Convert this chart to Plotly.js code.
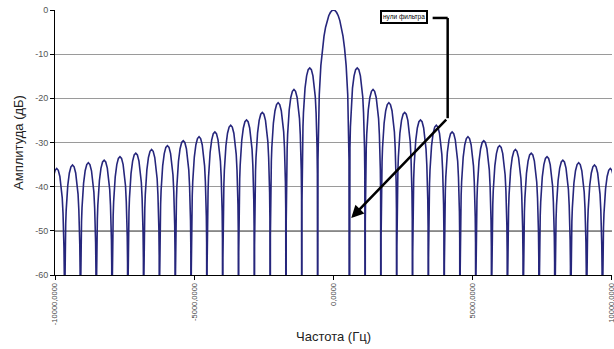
<!DOCTYPE html>
<html><head><meta charset="utf-8">
<script src="https://cdn.plot.ly/plotly-3.0.1.min.js"></script>
<style>html,body{margin:0;padding:0;background:#fff}</style></head>
<body><div id="chart" style="width:614px;height:349px"></div>
<script>
// Null frequencies (Hz) on the positive side (symmetric chart)
const nullFreqsHz = [568,1136,1704,2272,2840,3408,3976,4544,5112,5680,6248,6816,7384,7952,8520,9088,9656,10224];
// Peak level (dB) of each side lobe k=1..17 (between null k and null k+1)
const sideLobePeaksDb = [-13.1,-18.0,-21.0,-23.2,-24.9,-26.1,-27.6,-28.7,-29.6,-30.7,-31.6,-32.4,-33.2,-34.0,-34.6,-35.1,-35.9];
const mainLobePeakDb = 0;
// Arch profile: fraction of lobe width -> dB below the lobe peak
const sideLobeShapeFrac = [0,0.01,0.02,0.04,0.07,0.1,0.15,0.2,0.3,0.4,0.5];
const sideLobeShapeDb   = [-100,-30,-24,-18,-13.3,-10.2,-6.6,-4.6,-1.8,-0.4,0];
const mainLobeShapeFrac = [0,0.1,0.2,0.3,0.4,0.5,0.6,0.7,0.8,0.9,0.95,0.98,1];
const mainLobeShapeDb   = [0,-0.14,-0.58,-1.3,-2.4,-3.9,-5.9,-8.7,-12.6,-19.2,-25.6,-33.8,-100];
// Axis ticks
const xTickVals = [-10000,-5000,0,5000,10000];
const xTickText = ['-10000,0000','-5000,0000','0,0000','5000,0000','10000,0000'];
const yTickVals = [0,-10,-20,-30,-40,-50,-60];
const yTickText = ['0','-10','-20','-30','-40','-50','-60'];
const annotationText = 'нули фильтра';

// Build positive half from the read tables
const px = [], py = [];
for (let i = 0; i < mainLobeShapeFrac.length; i++) {
  px.push(mainLobeShapeFrac[i] * nullFreqsHz[0]);
  py.push(mainLobePeakDb + mainLobeShapeDb[i]);
}
for (let k = 0; k < sideLobePeaksDb.length; k++) {
  const a = nullFreqsHz[k], b = nullFreqsHz[k + 1], pk = sideLobePeaksDb[k];
  for (let i = 1; i < sideLobeShapeFrac.length; i++) {
    px.push(a + sideLobeShapeFrac[i] * (b - a)); py.push(pk + sideLobeShapeDb[i]);
  }
  for (let i = sideLobeShapeFrac.length - 2; i >= 0; i--) {
    px.push(a + (1 - sideLobeShapeFrac[i]) * (b - a)); py.push(pk + sideLobeShapeDb[i]);
  }
}
const xs = [], ys = [];
for (let i = px.length - 1; i >= 1; i--) { xs.push(-px[i]); ys.push(py[i]); }
for (let i = 0; i < px.length; i++) { xs.push(px[i]); ys.push(py[i]); }

const trace = {
  x: xs, y: ys, type: 'scatter', mode: 'lines',
  line: {color: '#26267c', width: 1.6},
  hoverinfo: 'skip'
};

const layout = {
  width: 614, height: 349,
  margin: {l: 55, r: 2, t: 10, b: 74},
  paper_bgcolor: '#ffffff', plot_bgcolor: '#ffffff',
  showlegend: false,
  font: {family: 'Liberation Sans, Arial, sans-serif'},
  xaxis: {
    range: [-10001, 10001], tickvals: xTickVals, ticktext: xTickText,
    tickangle: -90, tickfont: {size: 7.5, color: '#444'}, ticklabeloverflow: 'allow',
    showgrid: false, zeroline: false, showline: true, linecolor: '#000', linewidth: 1,
    ticks: 'outside', ticklen: 4, tickcolor: '#000',
    title: {text: 'Частота (Гц)', font: {size: 13, color: '#222'}, standoff: 7}
  },
  yaxis: {
    range: [-60, 0], tickvals: yTickVals, ticktext: yTickText,
    tickfont: {size: 9, color: '#555'},
    showgrid: true, gridcolor: '#9a9a9a', gridwidth: 1,
    zeroline: false, showline: true, linecolor: '#000', linewidth: 1,
    ticks: 'outside', ticklen: 4, tickcolor: '#000',
    title: {text: 'Амплитуда (дБ)', font: {size: 13, color: '#222'}, standoff: 8}
  },
  shapes: [
    {type: 'line', xref: 'x', yref: 'y', x0: -10000, x1: 10000, y0: -50, y1: -50,
     line: {color: '#111', width: 1.2}, layer: 'below'},
    {type: 'line', xref: 'x', yref: 'y', x0: 3560, x1: 4100, y0: -1.8, y1: -1.8,
     line: {color: '#000', width: 2.5}},
    {type: 'line', xref: 'x', yref: 'y', x0: 4100, x1: 4100, y0: -1.8, y1: -24.5,
     line: {color: '#000', width: 2.5}}
  ],
  annotations: [
    {x: 2520, y: -1.6, xref: 'x', yref: 'y', text: annotationText, showarrow: false,
     font: {size: 6.5, color: '#000'}, bgcolor: '#fff', bordercolor: '#000', borderwidth: 2, borderpad: 1},
    {x: 637, y: -47.1, xref: 'x', yref: 'y', ax: 4100, ay: -24.5, axref: 'x', ayref: 'y',
     text: '', showarrow: true, arrowhead: 2, arrowsize: 1, arrowwidth: 2.5, arrowcolor: '#000'}
  ]
};

Plotly.newPlot('chart', [trace], layout, {staticPlot: true, displayModeBar: false});
</script></body></html>
